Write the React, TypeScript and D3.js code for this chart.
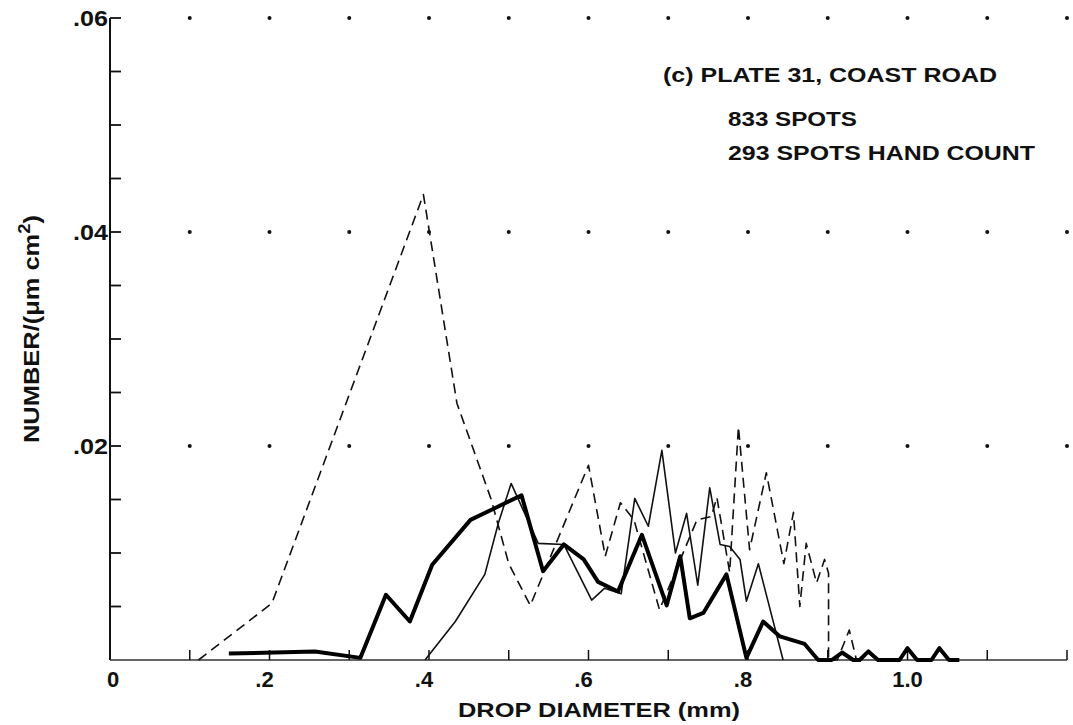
import React from "react";
import * as d3 from "d3";

// Drop-size distribution, plate 31 (coast road)
const dashedX = [0.111, 0.203, 0.393, 0.435, 0.478, 0.5, 0.527, 0.6, 0.621, 0.64, 0.657, 0.689, 0.736, 0.754, 0.761, 0.777, 0.788, 0.802, 0.823, 0.845, 0.857, 0.865, 0.873, 0.886, 0.896, 0.901, 0.901, 0.912, 0.927, 0.936];
const dashedY = [0, 0.0053, 0.0435, 0.024, 0.015, 0.009, 0.0051, 0.0182, 0.0097, 0.0147, 0.0131, 0.0047, 0.0131, 0.0134, 0.0152, 0.0082, 0.0218, 0.0103, 0.0175, 0.009, 0.0138, 0.005, 0.0109, 0.0072, 0.0094, 0.0081, 0, 0, 0.0028, 0];

const thinX = [0.395, 0.433, 0.47, 0.487, 0.503, 0.537, 0.569, 0.604, 0.62, 0.641, 0.658, 0.675, 0.692, 0.709, 0.723, 0.737, 0.752, 0.765, 0.777, 0.79, 0.798, 0.813, 0.844];
const thinY = [0, 0.0036, 0.008, 0.0128, 0.0165, 0.0109, 0.0108, 0.0056, 0.0067, 0.0062, 0.0151, 0.0125, 0.0196, 0.01, 0.0137, 0.007, 0.0161, 0.0108, 0.0106, 0.0094, 0.0055, 0.009, 0];

const thickX = [0.149, 0.257, 0.314, 0.346, 0.376, 0.404, 0.452, 0.483, 0.516, 0.543, 0.569, 0.594, 0.612, 0.637, 0.667, 0.698, 0.715, 0.727, 0.744, 0.773, 0.798, 0.819, 0.84, 0.871, 0.888, 0.905, 0.918, 0.932, 0.94, 0.951, 0.963, 0.99, 1.0, 1.012, 1.03, 1.04, 1.052, 1.065];
const thickY = [0.0006, 0.0008, 0.0002, 0.0061, 0.0036, 0.0089, 0.0131, 0.0142, 0.0154, 0.0083, 0.0108, 0.0094, 0.0073, 0.0064, 0.0117, 0.0051, 0.0097, 0.0039, 0.0044, 0.008, 0.0002, 0.0036, 0.0022, 0.0015, 0, 0, 0.0007, 0, 0, 0.0008, 0, 0, 0.0011, 0, 0, 0.0011, 0, 0];

const xTickValues = [0.1, 0.2, 0.3, 0.4, 0.5, 0.6, 0.7, 0.8, 0.9, 1.0, 1.1, 1.2];
const xTickLabels = [
  { v: 0, t: "0" },
  { v: 0.2, t: ".2" },
  { v: 0.4, t: ".4" },
  { v: 0.6, t: ".6" },
  { v: 0.8, t: ".8" },
  { v: 1.0, t: "1.0" },
];
const yMinorTicks = [0.005, 0.01, 0.015, 0.02, 0.025, 0.03, 0.035, 0.04, 0.045, 0.05, 0.055, 0.06];
const yTickLabels = [
  { v: 0.02, t: ".02" },
  { v: 0.04, t: ".04" },
  { v: 0.06, t: ".06" },
];
const gridRows = [0.02, 0.04, 0.06];
const gridCols = [0.1, 0.2, 0.3, 0.4, 0.5, 0.6, 0.7, 0.8, 0.9, 1.0, 1.1, 1.2];

const titleLines = ["(c) PLATE 31, COAST ROAD", "833 SPOTS", "293 SPOTS HAND COUNT"];

const W = 1073;
const H = 725;
const FONT = "'Liberation Sans', Arial, Helvetica, sans-serif";
const INK = "#111";

export default function App() {
  const x = d3.scaleLinear().domain([0, 1.2]).range([110, 1067]);
  const y = d3.scaleLinear().domain([0, 0.06]).range([660, 18]);

  const line = d3
    .line<[number, number]>()
    .x((d) => x(d[0]))
    .y((d) => y(d[1]));

  const zip = (xs: number[], ys: number[]) => xs.map((v, i) => [v, ys[i]] as [number, number]);

  const x0 = x(0);
  const y0 = y(0);

  const labelX = (d: { v: number; t: string }) =>
    d.v === 0 ? x0 + 3 : d.t.startsWith(".") ? x(d.v) - 5 : x(d.v);

  return (
    <svg
      width={W}
      height={H}
      style={{ position: "absolute", left: 0, top: 0, background: "#fff" }}
      fontFamily={FONT}
      fontWeight="bold"
      fill={INK}
    >
      <rect width={W} height={H} fill="#fff" />

      {/* dotted grid */}
      {gridRows.map((r) =>
        gridCols.map((c) => (
          <circle key={`${r}-${c}`} cx={x(c)} cy={y(r)} r={2} fill={INK} />
        ))
      )}

      {/* axes */}
      <line x1={x0} y1={y(0.06)} x2={x0} y2={y0} stroke={INK} strokeWidth={2} />
      <line x1={x0} y1={y0} x2={x(1.2)} y2={y0} stroke="#333" strokeWidth={1.4} />
      {yMinorTicks.map((v) => (
        <line key={v} x1={x0} x2={x0 + 11} y1={y(v)} y2={y(v)} stroke={INK} strokeWidth={1.8} />
      ))}
      {xTickValues.map((v) => (
        <line key={v} x1={x(v)} x2={x(v)} y1={y0} y2={y0 - 10} stroke={INK} strokeWidth={1.5} />
      ))}

      {/* tick labels */}
      {yTickLabels.map((d) => (
        <text
          key={d.t}
          x={x0 - 2}
          y={y(d.v)}
          dy="0.36em"
          textAnchor="end"
          fontSize={22}
          textLength={35}
          lengthAdjust="spacingAndGlyphs"
        >
          {d.t}
        </text>
      ))}
      {xTickLabels.map((d) => (
        <text key={d.t} x={labelX(d)} y={y0 + 27} textAnchor="middle" fontSize={22}>
          {d.t}
        </text>
      ))}

      {/* axis titles */}
      <text
        x={599}
        y={717}
        textAnchor="middle"
        fontSize={21}
        textLength={282}
        lengthAdjust="spacingAndGlyphs"
      >
        DROP DIAMETER (mm)
      </text>
      <text
        transform="translate(39,329) rotate(-90)"
        textAnchor="middle"
        fontSize={22}
        textLength={228}
        lengthAdjust="spacingAndGlyphs"
      >
        NUMBER/(μm cm<tspan dy={-9} fontSize={16}>2</tspan>
        <tspan dy={9}>)</tspan>
      </text>

      {/* data */}
      <path
        d={line(zip(dashedX, dashedY)) || ""}
        fill="none"
        stroke={INK}
        strokeWidth={1.6}
        strokeDasharray="10 6"
        strokeLinejoin="round"
      />
      <path
        d={line(zip(thinX, thinY)) || ""}
        fill="none"
        stroke={INK}
        strokeWidth={1.6}
        strokeLinejoin="round"
      />
      <path
        d={line(zip(thickX, thickY)) || ""}
        fill="none"
        stroke="#000"
        strokeWidth={4}
        strokeLinejoin="round"
      />

      {/* caption */}
      <text x={663} y={82} fontSize={21} textLength={334} lengthAdjust="spacingAndGlyphs">
        {titleLines[0]}
      </text>
      <text x={728} y={126} fontSize={21} textLength={129} lengthAdjust="spacingAndGlyphs">
        {titleLines[1]}
      </text>
      <text x={728} y={160} fontSize={21} textLength={307} lengthAdjust="spacingAndGlyphs">
        {titleLines[2]}
      </text>
    </svg>
  );
}
